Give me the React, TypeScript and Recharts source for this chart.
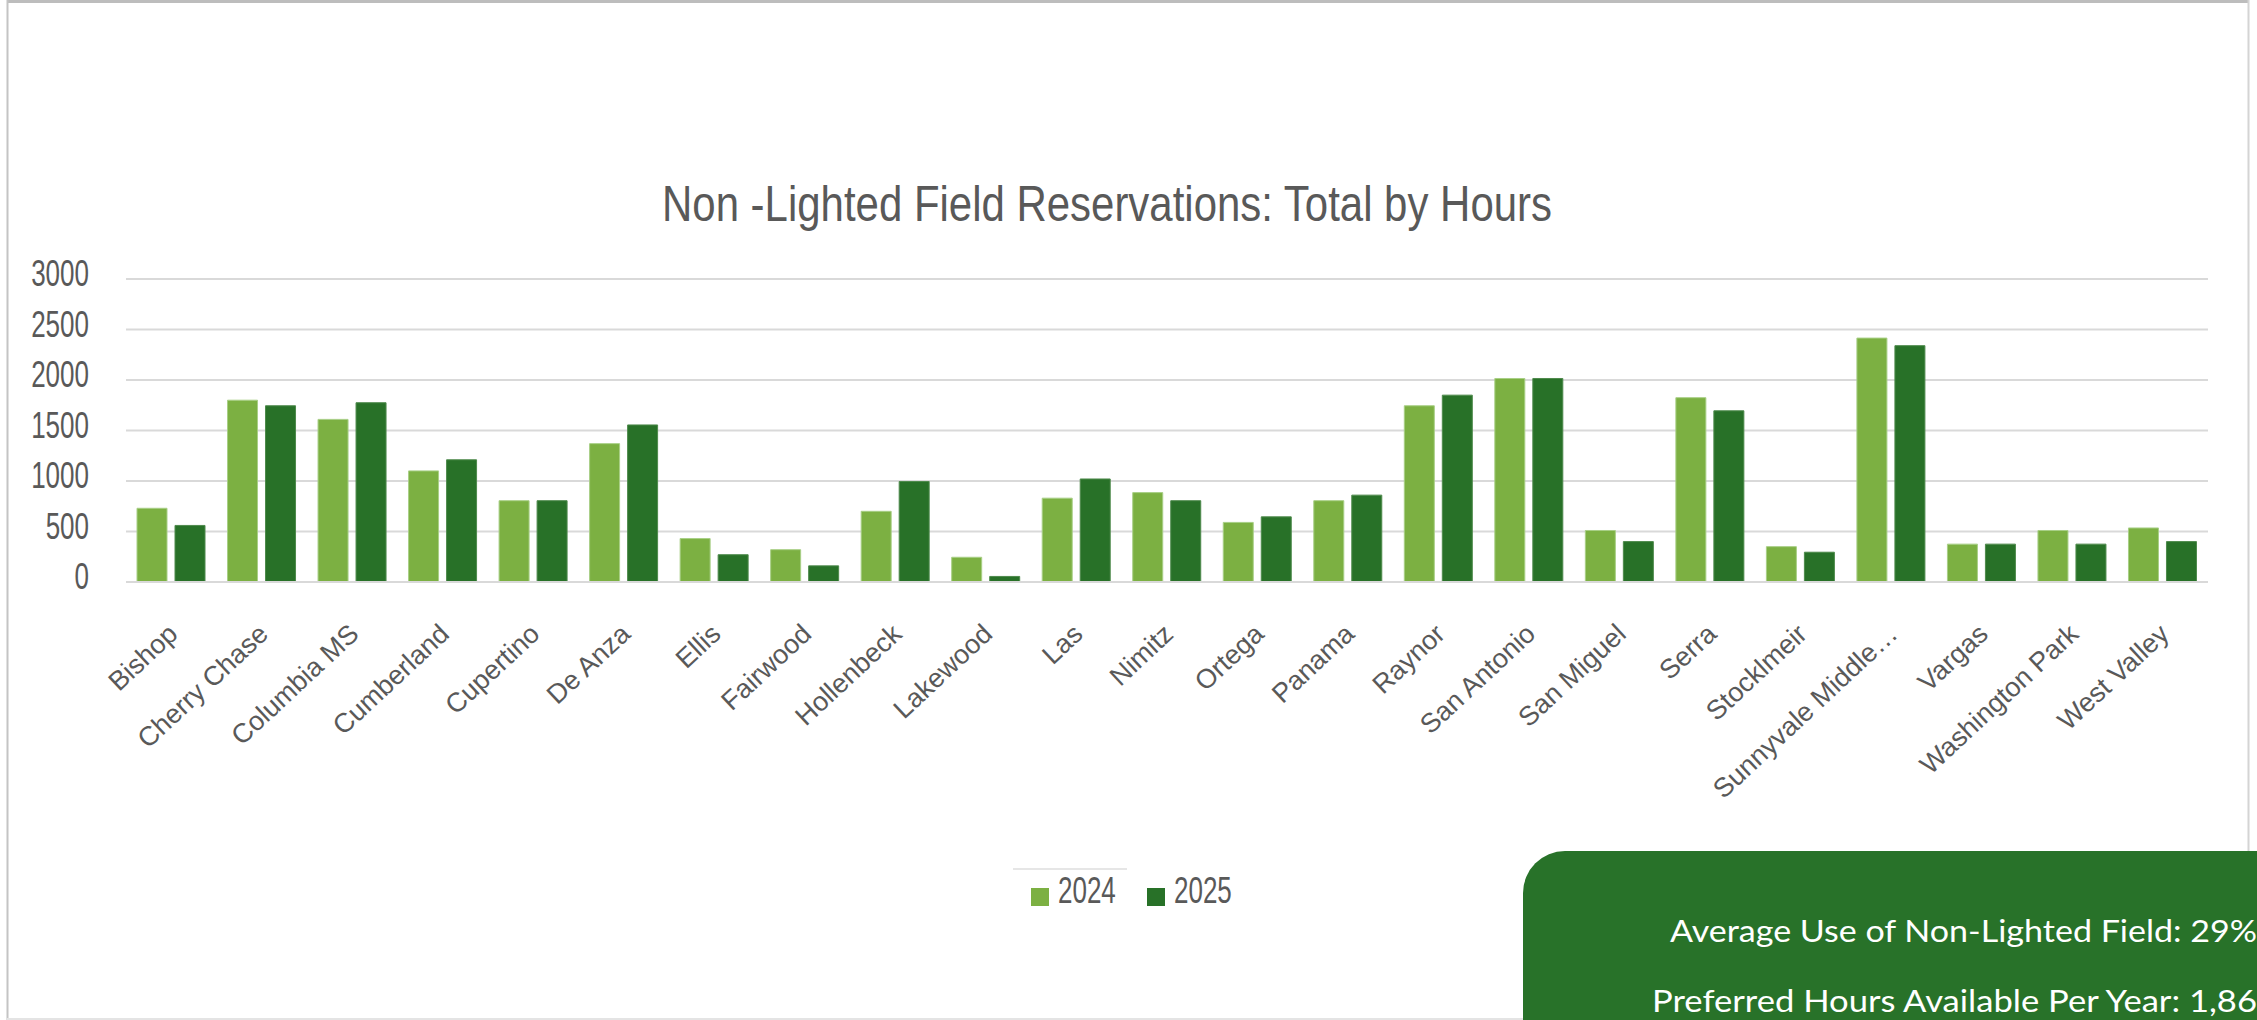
import React from 'react';
import { BarChart, Bar, XAxis, YAxis, CartesianGrid, Legend } from 'recharts';

const categories = ['Bishop', 'Cherry Chase', 'Columbia MS', 'Cumberland', 'Cupertino', 'De Anza', 'Ellis', 'Fairwood', 'Hollenbeck', 'Lakewood', 'Las', 'Nimitz', 'Ortega', 'Panama', 'Raynor', 'San Antonio', 'San Miguel', 'Serra', 'Stocklmeir', 'Sunnyvale Middle…', 'Vargas', 'Washington Park', 'West Valley'];
const hours2024 = [730, 1800, 1610, 1100, 805, 1370, 430, 320, 700, 245, 830, 885, 590, 805, 1745, 2015, 510, 1825, 350, 2415, 375, 510, 535];
const hours2025 = [560, 1745, 1775, 1210, 805, 1555, 270, 160, 995, 55, 1020, 805, 645, 860, 1850, 2015, 400, 1695, 295, 2340, 375, 375, 400];
const yTicks = [0, 500, 1000, 1500, 2000, 2500, 3000];
const seriesNames = ['2024', '2025'];
const seriesColors = ['#7CB042', '#287128'];
const titleText = 'Non -Lighted Field Reservations: Total by Hours';
const statLines = ['Average Use of Non-Lighted Field: 29%', 'Preferred Hours Available Per Year: 1,86'];

const data = categories.map((name, i) => ({ name, y2024: hours2024[i], y2025: hours2025[i] }));

const FONT = "'Liberation Sans', Arial, sans-serif";
const TXT = '#595959';

const YTick = (props: any) => {
  const { x, y, payload } = props;
  return (
    <text transform={`translate(${x},${y + 7}) scale(1,1.4)`} textAnchor="end" fontFamily={FONT} fontSize={26} fill={TXT}>
      {payload.value}
    </text>
  );
};

const XTick = (props: any) => {
  const { x, y, payload } = props;
  return (
    <text transform={`translate(${x + 8},${y + 54}) rotate(-43)`} textAnchor="end" fontFamily={FONT} fontSize={27} fill={TXT}>
      {payload.value}
    </text>
  );
};

const LegendContent = () => (
  <svg width={300} height={60} style={{ display: 'block' }}>
    <line x1={13} y1={9} x2={127} y2={9} stroke="#E6E6E6" strokeWidth={2} />
    {seriesNames.map((n, i) => {
      const ox = i === 0 ? 31 : 147;
      return (
        <g key={n}>
          <rect x={ox} y={28} width={18} height={18} fill={seriesColors[i]} />
          <text transform={`translate(${ox + 27},${43}) scale(1,1.4)`} fontFamily={FONT} fontSize={26} fill={TXT}>{n}</text>
        </g>
      );
    })}
  </svg>
);

export default function App() {
  return (
    <div style={{ position: 'absolute', left: 0, top: 0, width: 2257, height: 1020, overflow: 'hidden', background: '#fff' }}>
      <BarChart
        width={2257}
        height={1020}
        data={data}
        margin={{ top: 279, right: 49, bottom: 408, left: 26 }}
        barCategoryGap={11}
        barGap={8}
      >
        <CartesianGrid vertical={false} stroke="#D9D9D9" strokeWidth={2} />
        <XAxis
          dataKey="name"
          interval={0}
          height={30}
          tickLine={false}
          tickSize={0}
          tickMargin={0}
          axisLine={{ stroke: '#D9D9D9', strokeWidth: 2 }}
          tick={<XTick />}
        />
        <YAxis
          width={100}
          domain={[0, 3000]}
          ticks={yTicks}
          axisLine={false}
          tickLine={false}
          tickSize={0}
          tickMargin={37}
          tick={<YTick />}
        />
        <Legend
          verticalAlign="middle"
          layout="horizontal"
          content={<LegendContent />}
          wrapperStyle={{ position: 'absolute', left: 1000, top: 860, width: 300, height: 60 }}
        />
        <Bar dataKey="y2024" name={seriesNames[0]} fill={seriesColors[0]} stroke="#A8CF86" strokeWidth={1} isAnimationActive={false} />
        <Bar dataKey="y2025" name={seriesNames[1]} fill={seriesColors[1]} stroke="#4E8A4C" strokeWidth={1} isAnimationActive={false} />
      </BarChart>
      <svg width={2257} height={1020} style={{ position: 'absolute', left: 0, top: 0, pointerEvents: 'none' }}>
        <line x1={7} y1={1.5} x2={2249} y2={1.5} stroke="#BDBDBD" strokeWidth={3} />
        <line x1={7.5} y1={0} x2={7.5} y2={1020} stroke="#C4C4C4" strokeWidth={2} />
        <line x1={2248.5} y1={0} x2={2248.5} y2={1020} stroke="#D4D4D4" strokeWidth={2} />
        <line x1={7} y1={1019} x2={1530} y2={1019} stroke="#E4E4E4" strokeWidth={2} />
        <text
          transform="translate(1107,221) scale(1,1.2)"
          textAnchor="middle"
          fontFamily={FONT}
          fontSize={42}
          fill={TXT}
          textLength={890}
          lengthAdjust="spacingAndGlyphs"
        >
          {titleText}
        </text>
        <path d="M1523,1020 L1523,893 A42,42 0 0 1 1565,851 L2257,851 L2257,1020 Z" fill="#287229" />
        <text x={2257} y={941.5} textAnchor="end" fontFamily="Lato, 'Open Sans', sans-serif" fontSize={31} fill="#FFFFFF" textLength={587} lengthAdjust="spacingAndGlyphs">
          {statLines[0]}
        </text>
        <text x={1652} y={1012} fontFamily="Lato, 'Open Sans', sans-serif" fontSize={31} fill="#FFFFFF" textLength={605} lengthAdjust="spacingAndGlyphs">
          {statLines[1]}
        </text>
      </svg>
    </div>
  );
}
